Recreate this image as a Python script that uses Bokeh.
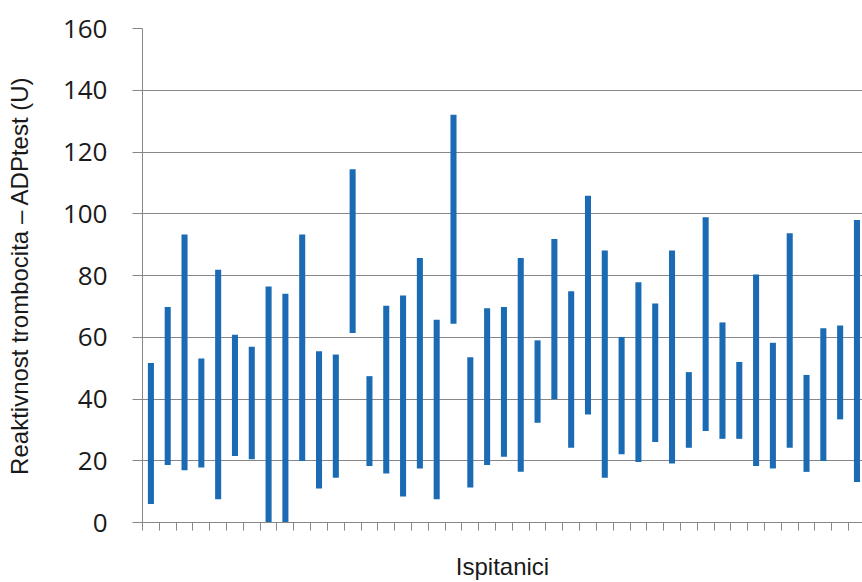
from bokeh.plotting import figure
from bokeh.models import Range1d, FixedTicker, ColumnDataSource, CustomJSTickFormatter
from bokeh.embed import file_html
from bokeh.resources import INLINE

# Data (platelet reactivity range per subject)
subjects = list(range(1, 44))
low_values = [6, 18.6, 16.9, 17.8, 7.5, 21.5, 20.5, 0, 0, 19.9, 11, 14.5, 61.4, 18.3,
              15.9, 8.4, 17.5, 7.5, 64.4, 11.3, 18.6, 21.3, 16.4, 32.3, 39.9, 24.2, 35, 14.5,
              22.1, 19.6, 26.1, 19.1, 24.2, 29.6, 27.1, 27.1, 18.3, 17.5, 24.2, 16.4, 19.9, 33.4, 13.1]
high_values = [51.7, 69.8, 93.3, 53.1, 81.9, 60.8, 56.9, 76.4, 74.1, 93.3, 55.5, 54.4, 114.4, 47.4,
               70.2, 73.5, 85.7, 65.7, 132.1, 53.5, 69.4, 69.8, 85.7, 59, 91.8, 74.9, 105.8, 88.1,
               60.1, 77.8, 70.9, 88.1, 48.7, 98.9, 64.8, 52, 80.3, 58.2, 93.7, 47.8, 62.9, 63.8, 98]
y_ticks = [0, 20, 40, 60, 80, 100, 120, 140, 160]
x_title = "Ispitanici"
y_title = "Reaktivnost trombocita \u2013 ADPtest (U)"

source = ColumnDataSource(dict(x=subjects, low=low_values, high=high_values))

p = figure(width=862, height=582, output_backend="svg", toolbar_location=None,
           x_range=Range1d(0.5, 43.33), y_range=Range1d(0, 160),
           min_border_left=142, min_border_top=28, min_border_right=0, min_border_bottom=59)

p.vbar(x="x", bottom="low", top="high", width=0.36, source=source,
       fill_color="#1a6bb3", line_color=None)

grey = "#878787"
p.outline_line_color = None
p.background_fill_color = "white"
p.border_fill_color = "white"

# y axis
yax = p.yaxis[0]
yax.ticker = FixedTicker(ticks=y_ticks)
yax.minor_tick_line_color = None
yax.major_tick_in = 0
yax.major_tick_out = 10
yax.major_tick_line_color = grey
yax.axis_line_color = grey
yax.major_label_text_font = "Open Sans"
yax.major_label_text_font_size = "26px"
yax.major_label_text_color = "#1a1a1a"
yax.major_label_standoff = 25
yax.axis_label = y_title
yax.axis_label_text_font = "Liberation Sans"
yax.axis_label_text_font_size = "24px"
yax.axis_label_text_font_style = "normal"
yax.axis_label_text_color = "#1a1a1a"
yax.axis_label_standoff = 27

# x axis: tick marks between subjects, no tick labels
xax = p.xaxis[0]
xax.ticker = FixedTicker(ticks=[i + 0.5 for i in range(0, 44)])
xax.formatter = CustomJSTickFormatter(code="return ''")
xax.minor_tick_line_color = None
xax.major_tick_in = 0
xax.major_tick_out = 8
xax.major_tick_line_color = grey
xax.axis_line_color = grey
xax.major_label_text_font_size = "2px"
xax.major_label_standoff = 0
xax.axis_label = x_title
xax.axis_label_text_font = "Liberation Sans"
xax.axis_label_text_font_size = "24px"
xax.axis_label_text_font_style = "normal"
xax.axis_label_text_color = "#1a1a1a"
xax.axis_label_standoff = 22

p.xgrid.grid_line_color = None
p.ygrid.ticker = FixedTicker(ticks=y_ticks)
p.ygrid.grid_line_color = grey
p.ygrid.grid_line_width = 1

open("out.html", "w").write(file_html(p, INLINE))
